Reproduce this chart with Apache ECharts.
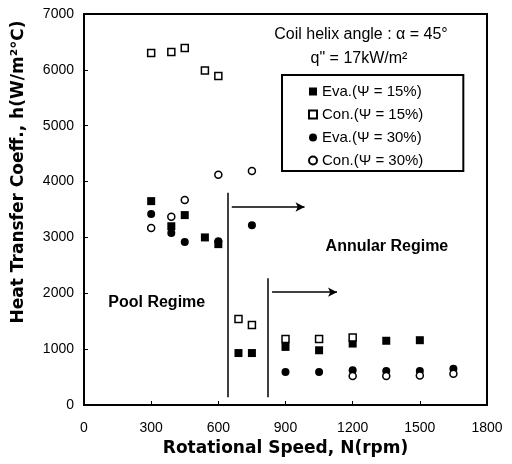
<!DOCTYPE html>
<html>
<head>
<meta charset="utf-8">
<script src="https://cdn.jsdelivr.net/npm/echarts@6.0.0/dist/echarts.min.js"></script>
<style>
  html, body { margin: 0; padding: 0; background: #fff; }
  #chart { width: 512px; height: 464px; }
</style>
</head>
<body>
<div id="chart"></div>
<script>
// rotational speed (rpm) and heat transfer coeff. (W/m2C)
const rpmEva15 = [300, 390, 450, 540, 600, 690, 750, 900, 1050, 1200, 1350, 1500];
const hEva15 = [3650, 3200, 3400, 3000, 2880, 930, 930, 1040, 980, 1100, 1150, 1160];
const rpmCon15 = [300, 390, 450, 540, 600, 690, 750, 900, 1050, 1200];
const hCon15 = [6300, 6320, 6390, 5990, 5890, 1540, 1430, 1180, 1180, 1210];
const rpmEva30 = [300, 390, 450, 600, 750, 900, 1050, 1200, 1350, 1500, 1650];
const hEva30 = [3420, 3080, 2920, 2930, 3220, 590, 590, 620, 610, 610, 650];
const rpmCon30 = [300, 390, 450, 600, 750, 1200, 1350, 1500, 1650];
const hCon30 = [3170, 3370, 3670, 4120, 4190, 520, 520, 530, 560];

const xTicks = [0, 300, 600, 900, 1200, 1500, 1800];
const yTicks = [0, 1000, 2000, 3000, 4000, 5000, 6000, 7000];

const seriesNames = ['Eva.(Ψ = 15%)', 'Con.(Ψ = 15%)', 'Eva.(Ψ = 30%)', 'Con.(Ψ = 30%)'];

function pairs(xs, ys) {
  let out = [];
  for (let i = 0; i < xs.length; i++) {
    out.push([xs[i], ys[i]]);
  }
  return out;
}

const FONT = 'DejaVu Sans';
const SANS = 'Liberation Sans';

let myChart = echarts.init(document.getElementById('chart'), null, { renderer: 'canvas' });

let filled = { color: '#000', opacity: 1 };
let hollow = { color: '#fff', borderColor: '#000', borderWidth: 1.5, opacity: 1 };

let option = {
  animation: false,
  backgroundColor: '#fff',
  grid: {
    left: 84, right: 25, top: 14, bottom: 59,
    show: true, borderColor: '#000', borderWidth: 2
  },
  legend: {
    data: seriesNames,
    orient: 'vertical',
    left: 282, top: 75,
    padding: [9, 40, 3, 26],
    itemGap: 8,
    itemWidth: 8, itemHeight: 8,
    borderColor: '#000', borderWidth: 2,
    textStyle: { fontFamily: SANS, fontSize: 15, color: '#000' }
  },
  graphic: [
    {
      type: 'text', x: 361, y: 35, style: {
        text: 'Coil helix angle : α = 45°',
        align: 'center', verticalAlign: 'middle',
        font: '16px "Liberation Sans"', fill: '#000'
      }
    },
    {
      type: 'text', x: 359, y: 59, style: {
        text: 'q" = 17kW/m²',
        align: 'center', verticalAlign: 'middle',
        font: '16px "Liberation Sans"', fill: '#000'
      }
    },
    {
      type: 'text', rotation: Math.PI / 2, x: 19, y: 172, style: {
        text: 'Heat Transfer Coeff., h(W/m²℃)',
        align: 'center', verticalAlign: 'middle',
        font: 'bold 17px "DejaVu Sans"', fill: '#000'
      }
    }
  ],
  xAxis: {
    type: 'value',
    min: xTicks[0], max: xTicks[xTicks.length - 1], interval: 300,
    name: 'Rotational Speed, N(rpm)',
    nameLocation: 'middle', nameGap: 33,
    nameTextStyle: { fontFamily: FONT, fontWeight: 'bold', fontSize: 17, color: '#000' },
    axisLine: { lineStyle: { color: '#000', width: 2 } },
    axisTick: { inside: true, length: 4, lineStyle: { color: '#000' } },
    axisLabel: {
      margin: 16, fontFamily: SANS, fontSize: 14, color: '#000',
      formatter: v => String(v)
    },
    splitLine: { show: false }
  },
  yAxis: {
    type: 'value',
    min: yTicks[0], max: yTicks[yTicks.length - 1], interval: 1000,
    axisLine: { lineStyle: { color: '#000', width: 2 } },
    axisTick: { inside: true, length: 4, lineStyle: { color: '#000' } },
    axisLabel: {
      margin: 10, fontFamily: SANS, fontSize: 14, color: '#000',
      formatter: v => String(v)
    },
    splitLine: { show: false }
  },
  series: [
    {
      name: seriesNames[0], type: 'scatter', symbol: 'rect', symbolSize: 8,
      itemStyle: filled, data: pairs(rpmEva15, hEva15), z: 2,
      markLine: {
        silent: true, symbol: ['none', 'none'], symbolSize: [7, 9],
        label: { show: false },
        lineStyle: { color: '#000', width: 1.5, type: 'solid' },
        data: [
          [{ coord: [640, 140] }, { coord: [640, 3800] }],
          [{ coord: [660, 3545] }, { coord: [985, 3545], symbol: 'arrow' }],
          [{ coord: [822, 140] }, { coord: [822, 2270] }],
          [{ coord: [840, 2020] }, { coord: [1130, 2020], symbol: 'arrow' }]
        ]
      },
      markPoint: {
        silent: true, symbol: 'rect', symbolSize: 0,
        label: {
          show: true, position: 'inside',
          fontFamily: SANS, fontWeight: 'bold', fontSize: 16, color: '#000'
        },
        data: [
          { coord: [1353, 2830], label: { formatter: 'Annular Regime' } },
          { coord: [325, 1830], label: { formatter: 'Pool Regime' } }
        ]
      }
    },
    {
      name: seriesNames[1], type: 'scatter', symbol: 'rect', symbolSize: 7,
      itemStyle: hollow, data: pairs(rpmCon15, hCon15), z: 3
    },
    {
      name: seriesNames[2], type: 'scatter', symbol: 'circle', symbolSize: 8,
      itemStyle: filled, data: pairs(rpmEva30, hEva30), z: 2
    },
    {
      name: seriesNames[3], type: 'scatter', symbol: 'circle', symbolSize: 7,
      itemStyle: hollow, data: pairs(rpmCon30, hCon30), z: 3
    }
  ]
};

myChart.setOption(option);
</script>
</body>
</html>
